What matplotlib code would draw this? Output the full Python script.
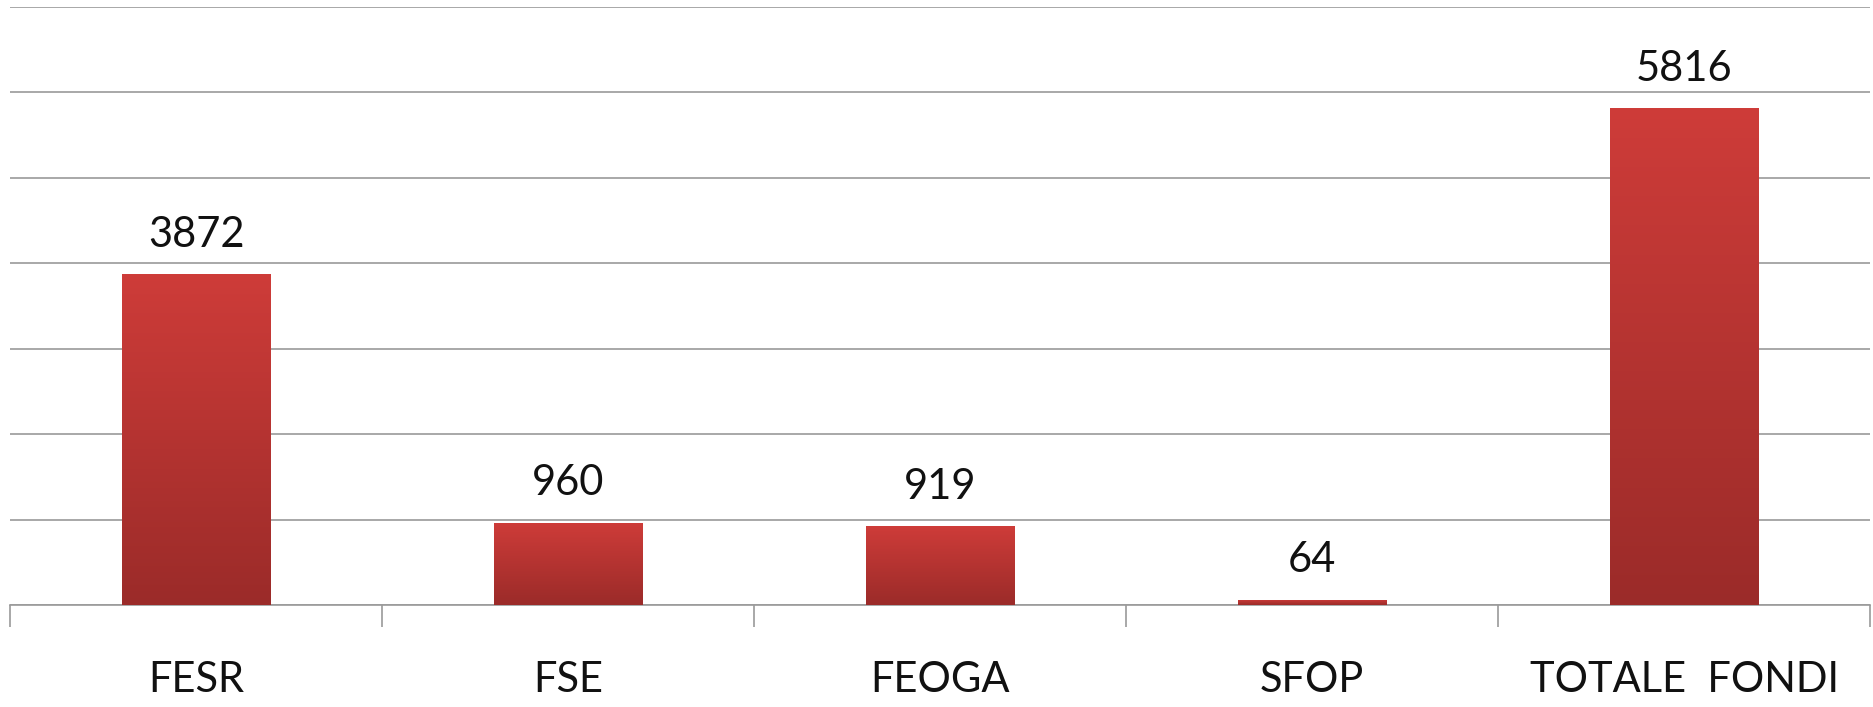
import matplotlib
matplotlib.use("Agg")
import matplotlib.pyplot as plt
import numpy as np
from matplotlib.colors import LinearSegmentedColormap

categories = ["FESR", "FSE", "FEOGA", "SFOP", "TOTALE  FONDI"]
values = [3872, 960, 919, 64, 5816]

plt.rcParams['font.family'] = ['Lato', 'DejaVu Sans']

fig = plt.figure(figsize=(18.74, 7.07), dpi=100)
ax = fig.add_axes([10/1874, 1 - 605/707, 1860/1874, 598/707])

x = np.arange(len(categories))
bars = ax.bar(x, values, width=0.4, color='#B83533', zorder=3)

cmap = LinearSegmentedColormap.from_list('g', ['#9B2B29', '#CE3C39'])
grad = np.linspace(0, 1, 256).reshape(-1, 1)
for b, v in zip(bars, values):
    bx, by = b.get_x(), b.get_y()
    w, h = b.get_width(), b.get_height()
    im = ax.imshow(grad, cmap=cmap, aspect='auto', origin='lower',
                   extent=[bx, bx + w, by, by + h], zorder=4)
    im.set_clip_path(b)
    ax.text(bx + w / 2, h + 240, f"{v}",
            ha='center', va='bottom', fontsize=30, color='#111111', zorder=5)

ax.set_xlim(-0.5, len(categories) - 0.5)
ax.set_ylim(0, 7000)
ax.set_yticks(np.arange(0, 7001, 1000))
ax.yaxis.grid(True, color='#9a9a9a', linewidth=1.2, zorder=0)
ax.set_yticklabels([])
ax.tick_params(axis='y', length=0)

ax.set_xticks(np.arange(-0.5, len(categories), 1.0), minor=False)
ax.set_xticklabels([])
ax.tick_params(axis='x', which='major', length=16, width=1.2, color='#9a9a9a', direction='out')
ax.set_xticks(x, minor=True)
ax.set_xticklabels(categories, minor=True, fontsize=30, color='#111111')
ax.tick_params(axis='x', which='minor', length=0, pad=40)

for s in ['top', 'right', 'left']:
    ax.spines[s].set_visible(False)
ax.spines['bottom'].set_color('#9a9a9a')
ax.spines['bottom'].set_linewidth(1.2)

fig.savefig("out.png", dpi=100)
